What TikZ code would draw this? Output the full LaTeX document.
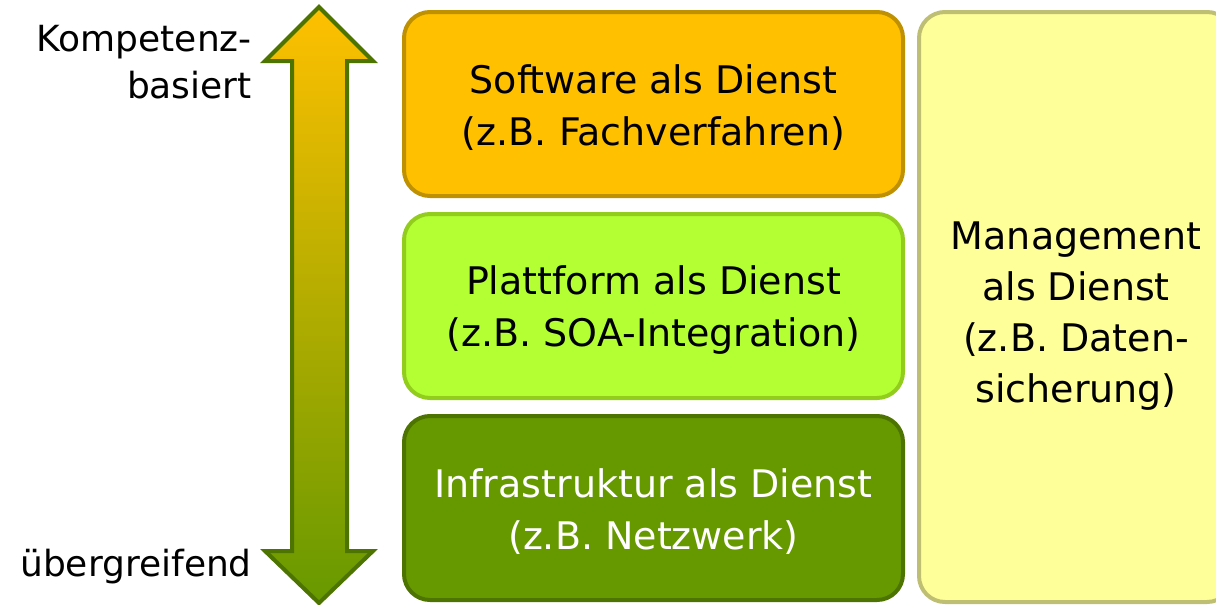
\documentclass[tikz,border=0pt]{standalone}
\usepackage{fontspec}
\setmainfont{DejaVu Sans}
\usepackage{tikz}
\usetikzlibrary{positioning}

\definecolor{swfill}{HTML}{FFC000}
\definecolor{swdraw}{HTML}{BF9000}
\definecolor{pffill}{HTML}{B3FF33}
\definecolor{pfdraw}{HTML}{92CD1E}
\definecolor{iafill}{HTML}{669900}
\definecolor{iadraw}{HTML}{4D7300}
\definecolor{mgfill}{HTML}{FFFF99}
\definecolor{mgdraw}{HTML}{BFBF73}

\begin{document}
\begin{tikzpicture}[
  x=1pt, y=-1pt,
  layer/.style={draw, line width=4pt, rounded corners=26pt, minimum width=499pt, minimum height=184pt, inner sep=0pt},
  layertext/.style={align=center, font=\fontsize{38}{52}\selectfont, inner sep=0pt},
  side/.style={font=\fontsize{36}{47}\selectfont, align=right, anchor=east, inner sep=0pt}
]
  \useasboundingbox (0,0) rectangle (1216,605);

  % Service layers
  \node[layer, fill=swfill, draw=swdraw] (software) at (653.5,104) {};
  \node[layertext] (softwaretext) at (653.5,108) {Software als Dienst\\(z.B. Fachverfahren)};
  \node[layer, fill=pffill, draw=pfdraw] (platform) at (653.5,306) {};
  \node[layertext] (platformtext) at (653.5,310) {Plattform als Dienst\\(z.B. SOA-Integration)};
  \node[layer, fill=iafill, draw=iadraw] (infra) at (653.5,508) {};
  \node[layertext, text=white] (infratext) at (653.5,512) {Infrastruktur als Dienst\\(z.B. Netzwerk)};

  % Management column (runs off the right edge)
  \node[layer, fill=mgfill, draw=mgdraw, minimum width=314pt, minimum height=590pt] (mgmt) at (1076,307) {};
  \node[layertext, font=\fontsize{38}{51}\selectfont] (mgmttext) at (1076,316) {Management\\als Dienst\\(z.B. Daten-\\sicherung)};

  % Competence arrow
  \draw[line width=4pt, draw=iadraw, top color=swfill, bottom color=iafill, line join=miter]
    (319,7) -- (373,61) -- (347,61) -- (347,551) -- (373,551) -- (319,603)
    -- (265,551) -- (292,551) -- (292,61) -- (265,61) -- cycle;

  % Axis labels
  \node[side] (top) at (252,62) {Kompetenz-\\basiert};
  \node[side] (bottom) at (252,567) {übergreifend};
\end{tikzpicture}
\end{document}
